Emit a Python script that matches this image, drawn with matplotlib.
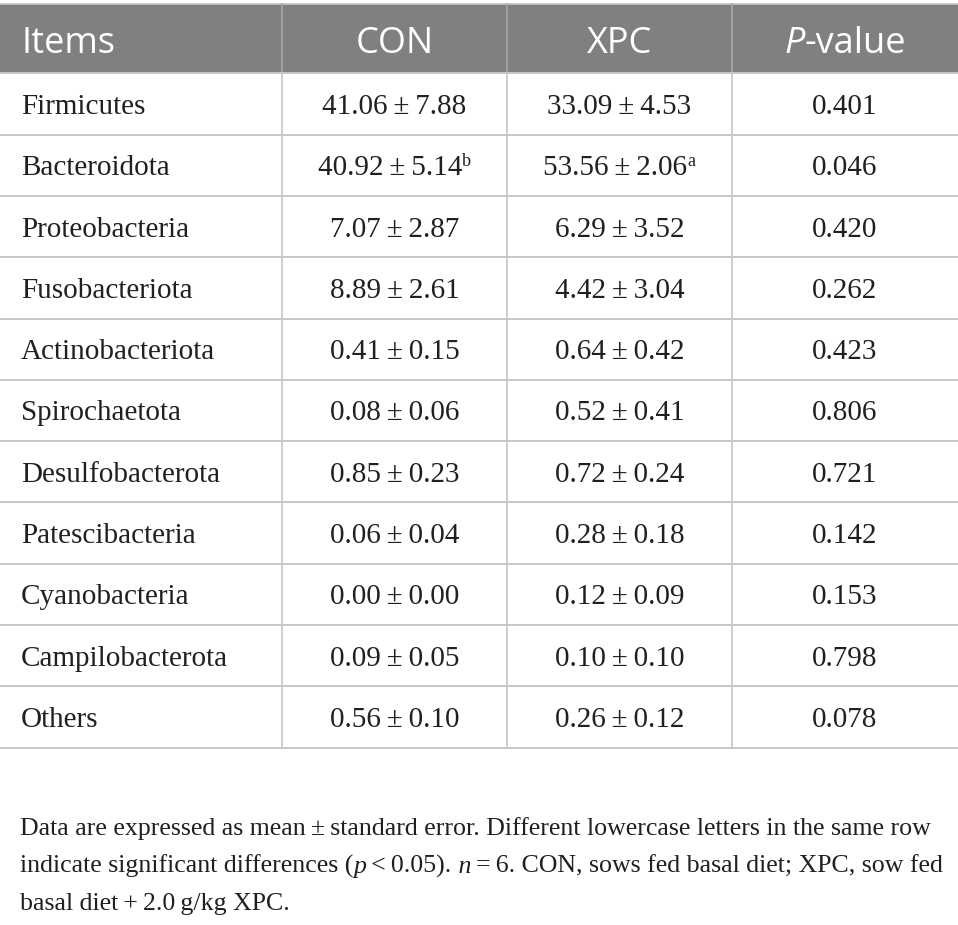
"""Relative abundance of fecal phyla (CON vs XPC) redrawn as a table figure."""

import matplotlib
matplotlib.use("Agg")
import matplotlib.pyplot as plt
from matplotlib.patches import Rectangle

# --- data -----------------------------------------------------------------
items = ["Firmicutes", "Bacteroidota", "Proteobacteria", "Fusobacteriota",
         "Actinobacteriota", "Spirochaetota", "Desulfobacterota",
         "Patescibacteria", "Cyanobacteria", "Campilobacterota", "Others"]
con_mean = ["41.06", "40.92", "7.07", "8.89", "0.41", "0.08", "0.85", "0.06",
            "0.00", "0.09", "0.56"]
con_se = ["7.88", "5.14", "2.87", "2.61", "0.15", "0.06", "0.23", "0.04",
          "0.00", "0.05", "0.10"]
con_sup = ["", "b", "", "", "", "", "", "", "", "", ""]
xpc_mean = ["33.09", "53.56", "6.29", "4.42", "0.64", "0.52", "0.72", "0.28",
            "0.12", "0.10", "0.26"]
xpc_se = ["4.53", "2.06", "3.52", "3.04", "0.42", "0.41", "0.24", "0.18",
          "0.09", "0.10", "0.12"]
xpc_sup = ["", "a", "", "", "", "", "", "", "", "", ""]
p_values = ["0.401", "0.046", "0.420", "0.262", "0.423", "0.806", "0.721",
            "0.142", "0.153", "0.798", "0.078"]

# --- layout (pixels) ------------------------------------------------------
W, H = 958, 925
COL_EDGES = [0, 282, 507, 732, 958]
HEAD_TOP, HEAD_BOT = 4, 73.3
ROW_H = 61.3
HEAD_GRAY = "#7f807f"
LINE_GRAY = "#c6c6c6"
SERIF = "Liberation Serif"
SANS = "Open Sans"
PM = "\u2009\u00b1\u2009"


def draw_runs(ax, x, y, runs, align="left", **common):
    """Place text pieces one after another on a common baseline."""
    r = ax.figure.canvas.get_renderer()
    placed = []
    cur = x
    for s, kw in runs:
        kw = dict(kw)
        dy = kw.pop("dy", 0)
        t = ax.text(cur, y + dy, s, va="baseline", ha="left", **{**common, **kw})
        w = t.get_window_extent(r).width
        placed.append(t)
        cur += w
    total = cur - x
    if align == "center":
        for t in placed:
            px, py = t.get_position()
            t.set_position((px - total / 2, py))
    return total


def cell_runs(mean, se, sup):
    runs = [(f"{mean}{PM}{se}", {})]
    if sup:
        runs.append((sup, {"fontsize": 13, "dy": -9}))
    return runs


def main():
    fig = plt.figure(figsize=(W / 100, H / 100), dpi=100)
    ax = fig.add_axes([0, 0, 1, 1])
    ax.set_xlim(0, W)
    ax.set_ylim(H, 0)
    ax.axis("off")

    n = len(items)
    bottom = HEAD_BOT + n * ROW_H

    # header band
    ax.add_patch(Rectangle((0, HEAD_TOP), W, HEAD_BOT - HEAD_TOP,
                           facecolor=HEAD_GRAY, edgecolor="none"))
    ax.plot([0, W], [HEAD_TOP, HEAD_TOP], color=LINE_GRAY, lw=1.2)
    for xe in COL_EDGES[1:-1]:
        ax.plot([xe, xe], [HEAD_TOP, HEAD_BOT], color="#a8a8a8", lw=1.2)
        ax.plot([xe, xe], [HEAD_BOT, bottom], color=LINE_GRAY, lw=1.2)
    for i in range(n + 1):
        yy = HEAD_BOT + i * ROW_H
        ax.plot([0, W], [yy, yy], color=LINE_GRAY, lw=1.4)

    head_base = 53
    hs = dict(family=SANS, fontsize=26, color="white")
    ax.text(22, head_base, "Items", va="baseline", ha="left", **hs)
    centers = [(COL_EDGES[k] + COL_EDGES[k + 1]) / 2 for k in range(4)]
    ax.text(centers[1], head_base, "CON", va="baseline", ha="center", **hs)
    ax.text(centers[2], head_base, "XPC", va="baseline", ha="center", **hs)
    draw_runs(ax, centers[3], head_base,
              [("P", {"style": "italic"}), ("-value", {})], align="center", **hs)

    bs = dict(family=SERIF, fontsize=21, color="#231f20")
    for i, name in enumerate(items):
        base = HEAD_BOT + i * ROW_H + ROW_H / 2 + 10
        ax.text(21, base, name, va="baseline", ha="left", **bs)
        draw_runs(ax, centers[1], base, cell_runs(con_mean[i], con_se[i], con_sup[i]),
                  align="center", **bs)
        draw_runs(ax, centers[2], base, cell_runs(xpc_mean[i], xpc_se[i], xpc_sup[i]),
                  align="center", **bs)
        ax.text(centers[3], base, p_values[i], va="baseline", ha="center", **bs)

    # footnote
    fs = dict(family=SERIF, fontsize=18.6, color="#231f20")
    it = {"style": "italic"}
    draw_runs(ax, 20, 835, [("Data are expressed as mean\u2009\u00b1\u2009standard error. "
                             "Different lowercase letters in the same row", {})], **fs)
    draw_runs(ax, 20, 873, [("indicate significant differences (", {}), ("p", it),
                            ("\u2009<\u20090.05).", {}), (" n", it),
                            ("\u2009=\u20096. CON, sows fed basal diet; XPC, sow fed", {})], **fs)
    draw_runs(ax, 20, 910, [("basal diet\u2009+\u20092.0\u2009g/kg XPC.", {})], **fs)

    fig.savefig("out.png", dpi=100)


if __name__ == "__main__":
    main()
